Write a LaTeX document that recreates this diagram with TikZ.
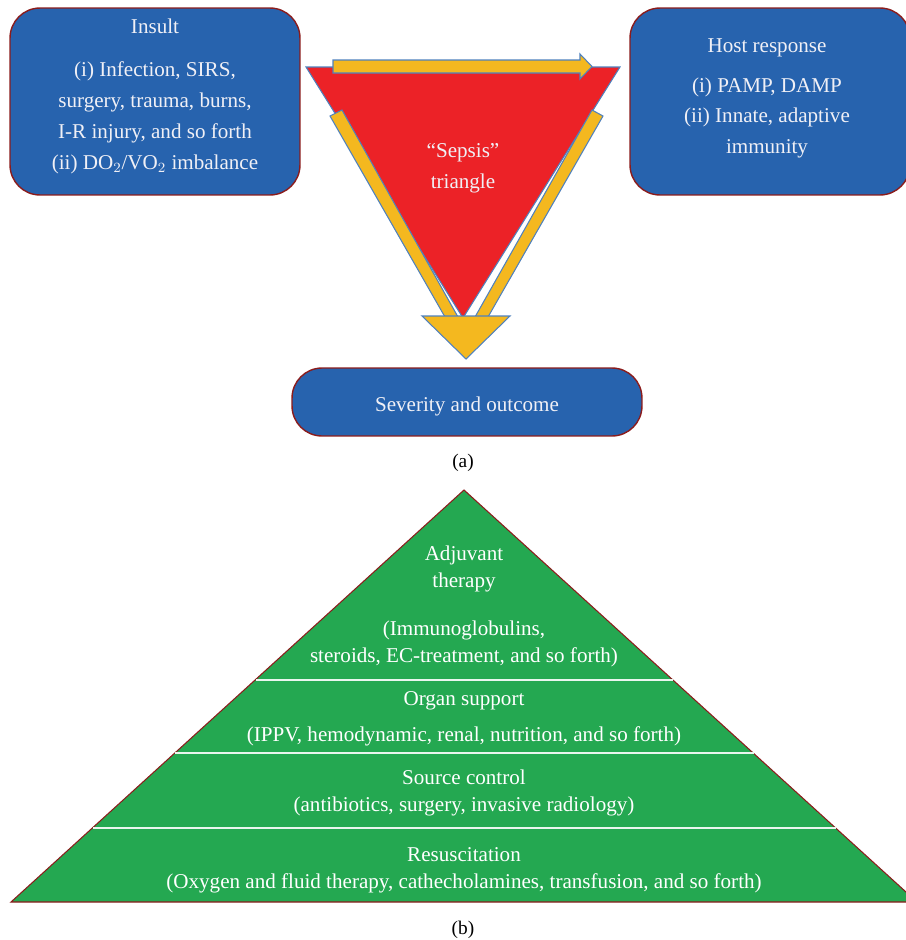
\documentclass[tikz,border=0pt]{standalone}
\usepackage{fontspec}
\setmainfont{Liberation Serif}
\definecolor{boxblue}{HTML}{2763AE}
\definecolor{edgered}{HTML}{8B1C1C}
\definecolor{sepsisred}{HTML}{EC2227}
\definecolor{arrowyellow}{HTML}{F4B81F}
\definecolor{lineblue}{HTML}{4F81BD}
\definecolor{pyrgreen}{HTML}{24A851}
\definecolor{softwhite}{HTML}{F0F0F6}

\begin{document}
\begin{tikzpicture}[
        x=0.02cm, y=-0.02cm,
        box/.style={draw=edgered, fill=boxblue, rounded corners=0.6cm, thick},
        txt/.style={text=softwhite, align=center, font=\fontsize{12}{17.6}\selectfont},
        pyrtxt/.style={text=white, align=center, font=\fontsize{12}{15.3}\selectfont},
        band/.style={fill=arrowyellow, draw=lineblue, line width=0.6pt},
        divider/.style={draw=white!90!pyrgreen, line width=1pt}
      ]
        \clip (0,0) rectangle (906,940);

        % Define the three boxes of part (a)
        \node[box, minimum width=5.8cm, minimum height=3.74cm] (Insult) at (155,101.5) {};
        \node[box, minimum width=5.6cm, minimum height=3.74cm] (Host) at (770,101.5) {};
        \node[box, minimum width=7cm, minimum height=1.36cm] (Severity) at (467,402) {};

        \node[txt] (InsultText) at (155,96) {Insult\\[7pt]
          (i) Infection, SIRS,\\ surgery, trauma, burns,\\ I-R injury, and so forth\\
          (ii) DO$_2$/VO$_2$ imbalance};
        \node[txt] (HostText) at (767,98.5) {Host response\\[5pt]
          (i) PAMP, DAMP\\ (ii) Innate, adaptive\\ immunity};
        \node[txt] (SeverityText) at (467,406) {Severity and outcome};

        % The sepsis triangle and its arrows
        \draw[fill=sepsisred, draw=lineblue, line width=0.6pt]
          (306,67) -- (620,67) -- (463,318) -- cycle;
        \node[txt] (Sepsis) at (463,168) {``Sepsis''\\ triangle};
        \draw[band] (333,60) -- (580,60) -- (580,54) -- (592,66.5) -- (580,79)
          -- (580,73) -- (333,73) -- cycle;
        \draw[band] (330,116) -- (342,110) -- (458,317) -- (445,317) -- cycle;
        \draw[band] (592,110) -- (603,116) -- (488,317) -- (475,317) -- cycle;
        \draw[band] (422,316) -- (510,316) -- (466,359) -- cycle;

        \node[font=\fontsize{11}{13}\selectfont] (CapA) at (463,463) {(a)};

        % Define the pyramid of part (b)
        \draw[fill=pyrgreen, draw=edgered, line width=0.6pt]
          (464,490) -- (917,902) -- (11,902) -- cycle;
        \draw[divider] (256,680) -- (673,680);
        \draw[divider] (175,753) -- (754,753);
        \draw[divider] (93,828) -- (836,828);

        \node[pyrtxt] (Adjuvant) at (464,569) {Adjuvant\\ therapy};
        \node[pyrtxt] (AdjuvantList) at (464,644) {(Immunoglobulins,\\
          steroids, EC-treatment, and so forth)};
        \node[pyrtxt] (Organ) at (464,701) {Organ support};
        \node[pyrtxt] (OrganList) at (464,736) {(IPPV, hemodynamic, renal, nutrition, and so forth)};
        \node[pyrtxt] (Source) at (464,793) {Source control\\
          (antibiotics, surgery, invasive radiology)};
        \node[pyrtxt] (Resus) at (464,870) {Resuscitation\\
          (Oxygen and fluid therapy, cathecholamines, transfusion, and so forth)};

        \node[font=\fontsize{11}{13}\selectfont] (CapB) at (463,930) {(b)};
      \end{tikzpicture}
\end{document}
